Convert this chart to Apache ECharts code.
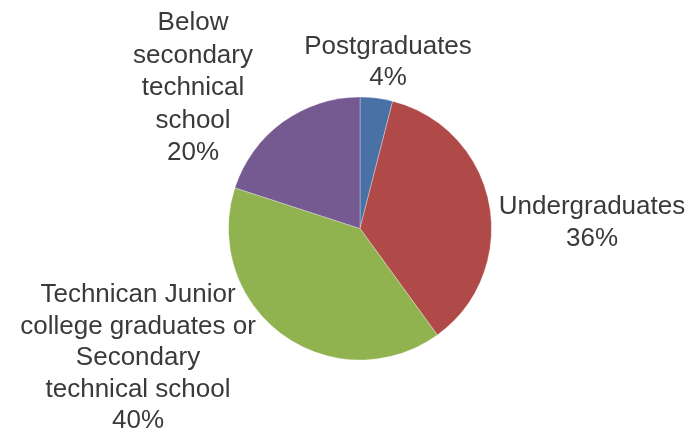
<!DOCTYPE html>
<html>
<head>
<meta charset="utf-8">
<script src="https://cdn.jsdelivr.net/npm/echarts@6/dist/echarts.min.js"></script>
<style>
html,body{margin:0;padding:0;background:#fff;}
#c{width:689px;height:432px;}
</style>
</head>
<body>
<div id="c"></div>
<script>
const categories = [
  'Postgraduates',
  'Undergraduates',
  'Technican Junior\ncollege graduates or\nSecondary\ntechnical school',
  'Below\nsecondary\ntechnical\nschool'
];
const values = [4, 36, 40, 20];
const colors = ['#4A71A5', '#AF4A48', '#90B24F', '#745A91'];
// label anchor centres and line heights (layout only)
const labelCenters = [[388, 62], [592, 223], [138, 358], [193, 88]];
const labelLineHeights = [31, 32, 31.5, 32.5];

const chart = echarts.init(document.getElementById('c'), null, {renderer: 'canvas'});
chart.setOption({
  animation: false,
  backgroundColor: '#fff',
  series: [{
    type: 'pie',
    center: [360, 228.5],
    radius: [0, 131.5],
    startAngle: 90,
    clockwise: true,
    avoidLabelOverlap: false,
    data: categories.map((n, i) => ({
      name: n, value: values[i],
      itemStyle: {color: colors[i]},
      label: {lineHeight: labelLineHeights[i]}
    })),
    itemStyle: {borderColor: 'rgba(255,255,255,0.6)', borderWidth: 0.5},
    label: {
      show: true,
      position: 'outside',
      formatter: p => p.name + '\n' + p.value + '%',
      fontFamily: '"Liberation Sans", Arial, Helvetica, sans-serif',
      fontSize: 26,
      color: '#3a3a3a',
      align: 'center'
    },
    labelLine: {show: false},
    labelLayout: function (params) {
      const c = labelCenters[params.dataIndex];
      return {x: c[0], y: c[1], align: 'center', verticalAlign: 'middle'};
    },
    emphasis: {disabled: true}
  }]
});
</script>
</body>
</html>
